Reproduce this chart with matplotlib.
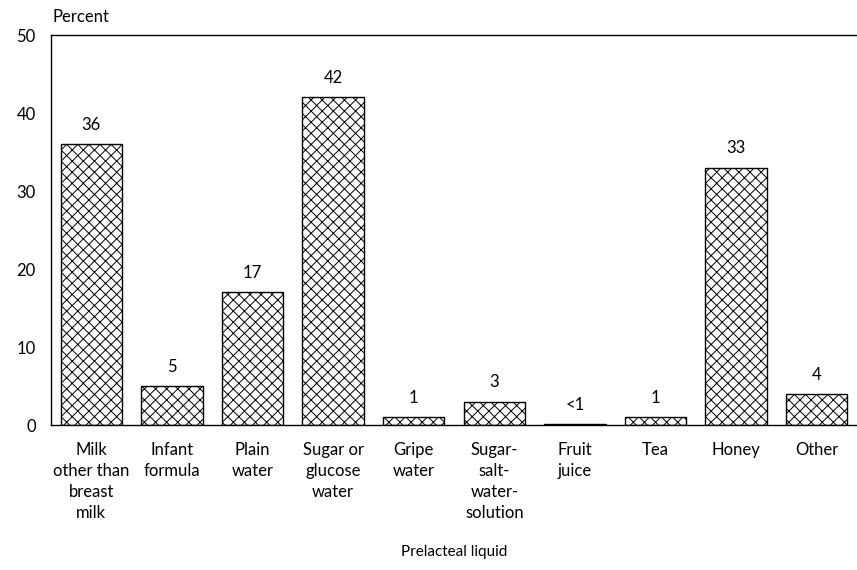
import matplotlib.pyplot as plt
import numpy as np

categories = ["Milk\nother than\nbreast\nmilk", "Infant\nformula", "Plain\nwater",
              "Sugar or\nglucose\nwater", "Gripe\nwater", "Sugar-\nsalt-\nwater-\nsolution",
              "Fruit\njuice", "Tea", "Honey", "Other"]
values = [36, 5, 17, 42, 1, 3, 0.1, 1, 33, 4]
value_labels = ["36", "5", "17", "42", "1", "3", "<1", "1", "33", "4"]

plt.rcParams['font.family'] = ['Lato', 'DejaVu Sans']
plt.rcParams['hatch.linewidth'] = 0.7
plt.rcParams['hatch.color'] = '#333333'

fig = plt.figure(figsize=(8.57, 5.70), dpi=100)
ax = fig.add_axes([51/857, 1 - 425/570, 806/857, 390/570])

x = np.arange(len(categories))
bars = ax.bar(x, values, width=0.76, color='white', edgecolor='black',
              linewidth=1.0, hatch='xxx')

for xi, v, lab in zip(x, values, value_labels):
    ax.annotate(lab, (xi, v), xytext=(0, 8), textcoords='offset points',
                ha='center', va='bottom', fontsize=12)

ax.set_xlim(-0.5, len(categories) - 0.5)
ax.set_ylim(0, 50)
ax.set_yticks([0, 10, 20, 30, 40, 50])
ax.tick_params(axis='y', length=0, labelsize=12, pad=11)
ax.tick_params(axis='x', length=0, labelsize=12, pad=12)
ax.set_xticks(x)
ax.set_xticklabels(categories, linespacing=1.4, va='top')
ax.spines['right'].set_visible(False)
for s in ['left', 'top', 'bottom']:
    ax.spines[s].set_linewidth(1.0)

fig.text(52/857, 1 - 17/570, "Percent", fontsize=12, va='center', ha='left')
fig.text(454/857, 1 - 552/570, "Prelacteal liquid", fontsize=11, va='center', ha='center')

fig.savefig("out.png", dpi=100)
